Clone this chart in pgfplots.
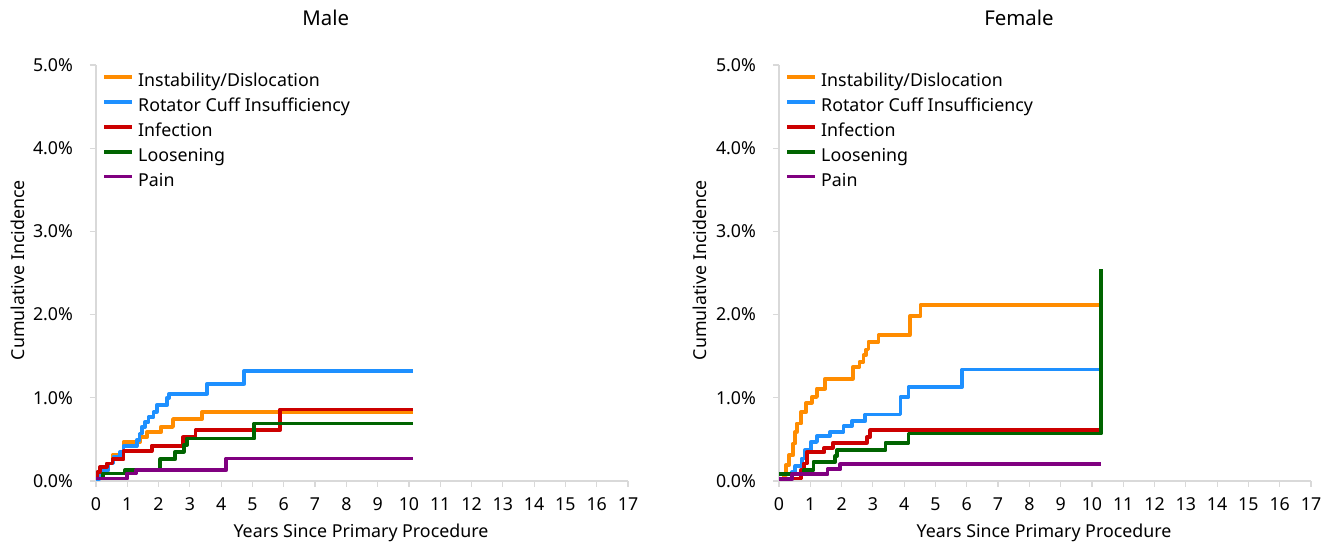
\documentclass[border=0pt]{standalone}
\usepackage{fontspec}
\setmainfont{Noto Sans}
\usepackage{pgfplots}
\pgfplotsset{compat=1.18}

\definecolor{cOrange}{RGB}{255,140,0}
\definecolor{cBlue}{RGB}{30,144,255}
\definecolor{cRed}{RGB}{204,0,0}
\definecolor{cGreen}{RGB}{0,100,0}
\definecolor{cPurple}{RGB}{128,0,128}
\definecolor{axgray}{RGB}{217,217,217}

\pgfplotsset{
  incstyle/.style={
    width=266pt, height=208pt, scale only axis, clip=false,
    xmin=0, xmax=17, ymin=0, ymax=5,
    axis x line*=bottom, axis y line*=left,
    axis line style={axgray, line width=1.3pt},
    xtick={0,1,...,17}, ytick={0,1,...,5},
    tick align=outside, major tick length=3pt,
    tick style={axgray, line width=0.6pt},
    yticklabel={\pgfmathprintnumber[fixed,fixed zerofill,precision=1]{\tick}\%},
    /pgf/number format/assume math mode=true,
    xticklabel style={yshift=-2pt},
    yticklabel style={xshift=-5pt},
    font=\fontsize{8.9pt}{10pt}\selectfont,
    every axis plot/.append style={const plot, line width=1.9pt, line join=round},
    legend style={draw=none, fill=none, at={(0.0,1.0)}, anchor=north west,
      font=\fontsize{8.9pt}{10pt}\selectfont, row sep=0.2pt, cells={anchor=west}},
    legend image code/.code={\draw[#1] (0pt,2.2pt) -- (14pt,2.2pt);},
  }
}

\begin{document}
\begin{tikzpicture}
\useasboundingbox (0,0) rectangle (666.5pt,273pt);

% Male
\begin{axis}[incstyle, at={(48pt,32.5pt)}, anchor=origin]
\addplot[cOrange] coordinates {(0,0.03)(0.23,0.13)(0.39,0.21)(0.53,0.31)(0.88,0.47)(1.41,0.525)(1.62,0.585)(2.07,0.65)(2.46,0.745)(3.39,0.83)(10.12,0.83)};
\addplot[cBlue] coordinates {(0,0.02)(0.10,0.07)(0.23,0.13)(0.39,0.21)(0.56,0.29)(0.77,0.35)(0.88,0.42)(1.30,0.49)(1.39,0.57)(1.46,0.65)(1.57,0.71)(1.68,0.77)(1.84,0.83)(1.94,0.91)(2.26,1.00)(2.34,1.05)(3.55,1.17)(4.74,1.325)(10.12,1.325)};
\addplot[cRed] coordinates {(0,0.05)(0.05,0.11)(0.13,0.17)(0.34,0.21)(0.53,0.26)(0.88,0.36)(1.78,0.425)(2.78,0.525)(3.18,0.61)(5.88,0.86)(10.12,0.86)};
\addplot[cGreen] coordinates {(0,0.03)(0.23,0.09)(0.93,0.13)(2.05,0.26)(2.53,0.35)(2.80,0.43)(2.90,0.51)(5.06,0.69)(10.12,0.69)};
\addplot[cPurple] coordinates {(0,0.03)(1.00,0.09)(1.27,0.13)(4.16,0.27)(10.12,0.27)};
\legend{Instability/Dislocation, Rotator Cuff Insufficiency, Infection, Loosening, Pain}
\node[font=\fontsize{10.2pt}{12pt}\selectfont] at (axis description cs:0.432,1.113) {Male};
\node[rotate=90] at (axis description cs:-0.147,0.507) {Cumulative Incidence};
\node at (axis description cs:0.498,-0.125) {Years Since Primary Procedure};
\end{axis}

% Female
\begin{axis}[incstyle, at={(389.5pt,32.5pt)}, anchor=origin]
\addplot[cOrange] coordinates {(0,0.03)(0.15,0.07)(0.22,0.19)(0.32,0.31)(0.45,0.45)(0.52,0.59)(0.57,0.69)(0.70,0.83)(0.87,0.94)(1.05,1.01)(1.21,1.11)(1.47,1.23)(2.36,1.37)(2.57,1.43)(2.70,1.51)(2.78,1.58)(2.86,1.675)(3.18,1.755)(4.18,1.98)(4.52,2.115)(10.29,2.115)};
\addplot[cBlue] coordinates {(0,0.03)(0.42,0.11)(0.52,0.18)(0.73,0.27)(0.83,0.37)(1.02,0.47)(1.21,0.54)(1.63,0.59)(2.06,0.66)(2.33,0.72)(2.76,0.80)(3.88,1.01)(4.14,1.13)(5.85,1.34)(10.29,1.34)};
\addplot[cRed] coordinates {(0,0.03)(0.69,0.13)(0.79,0.21)(0.89,0.345)(1.45,0.40)(1.72,0.46)(2.81,0.53)(2.92,0.61)(10.29,0.61)};
\addplot[cGreen] coordinates {(0,0.08)(0.79,0.13)(1.10,0.23)(1.80,0.30)(1.85,0.37)(3.40,0.46)(4.14,0.57)(10.29,0.57)(10.29,2.55)};
\addplot[cPurple] coordinates {(0,0.02)(0.42,0.08)(1.55,0.14)(1.96,0.20)(10.29,0.20)};
\legend{Instability/Dislocation, Rotator Cuff Insufficiency, Infection, Loosening, Pain}
\node[font=\fontsize{10.2pt}{12pt}\selectfont] at (axis description cs:0.451,1.113) {Female};
\node[rotate=90] at (axis description cs:-0.149,0.507) {Cumulative Incidence};
\node at (axis description cs:0.498,-0.125) {Years Since Primary Procedure};
\end{axis}
\end{tikzpicture}
\end{document}
